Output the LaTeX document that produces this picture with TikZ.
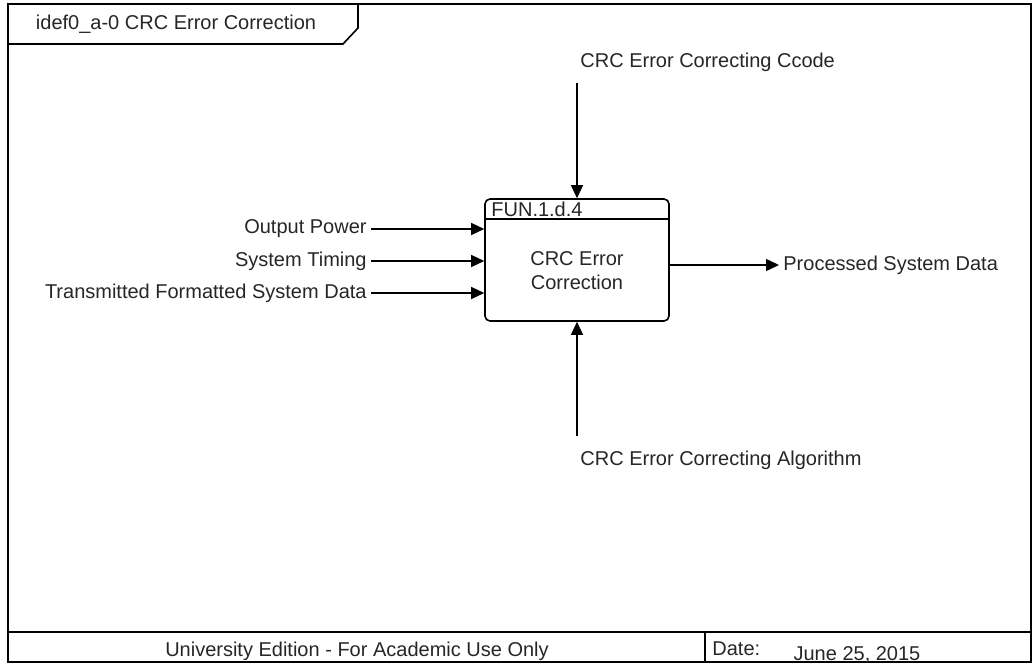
\documentclass[tikz,border=0pt]{standalone}
\usepackage{fontspec}
\setmainfont{Liberation Sans}
\usepackage{xcolor}
\usetikzlibrary{arrows.meta,positioning}
\definecolor{cink}{HTML}{262626}
\tikzset{>={Triangle[length=6.5pt,width=6pt]},
  frame/.style={draw=black,line width=1.2pt},
  flow/.style={->,draw=black,line width=0.7pt},
  actbox/.style={draw=black,line width=0.8pt,rounded corners=2.5pt,minimum width=92pt,minimum height=61pt},
  lab/.style={font=\fontsize{10}{12}\selectfont,text=cink,inner sep=2pt},
}

\begin{document}
\begin{tikzpicture}[x=0.5pt,y=-0.5pt]
  \useasboundingbox (0,0) rectangle (1034,664);
  % sheet border, title tab and footer
  \draw[frame] (8,4) rectangle (1031,662);
  \draw[frame] (8,632) -- (1031,632);
  \draw[frame] (705,632) -- (705,662);
  \draw[line width=0.8pt] (8,4) -- (358,4) -- (358,28) -- (343,44) -- (8,44);
  \node[lab] (title) at (176,24) {idef0\_a-0 CRC Error Correction};
  \node[lab] (edition) at (357,651) {University Edition - For Academic Use Only};
  \node[lab,anchor=north west] (datelab) at (708,637) {Date:};
  \node[lab] (date) at (857,655) {June 25, 2015};

  % the activity
  \node[actbox] (box) at (577,260) {};
  \coordinate (hdr) at (0,219);
  \draw[line width=0.8pt] (box.west |- hdr) -- (box.east |- hdr);
  \node[lab,anchor=west] (fun) at (487,209) {FUN.1.d.4};
  \node[lab,align=center] (name) at (577,271) {CRC Error\\Correction};

  % inputs
  \node[lab,anchor=east] (in1) at (371,229) {Output Power};
  \node[lab,anchor=east] (in2) at (371,261) {System Timing};
  \node[lab,anchor=east] (in3) at (371,293) {Transmitted Formatted System Data};
  \foreach \i in {in1,in2,in3}
    \draw[flow] (\i) -- (\i -| box.west);

  % output
  \node[lab,anchor=west] (out) at (779,265) {Processed System Data};
  \draw[flow] (out -| box.east) -- (out);

  % control and mechanism
  \node[lab,anchor=west] (ctl) at (576,62) {CRC Error Correcting Ccode};
  \draw[flow] ([yshift=57.5pt]box.north) -- (box.north);
  \node[lab,anchor=west] (mech) at (576,460) {CRC Error Correcting Algorithm};
  \draw[flow] ([yshift=-57pt]box.south) -- (box.south);
\end{tikzpicture}
\end{document}
